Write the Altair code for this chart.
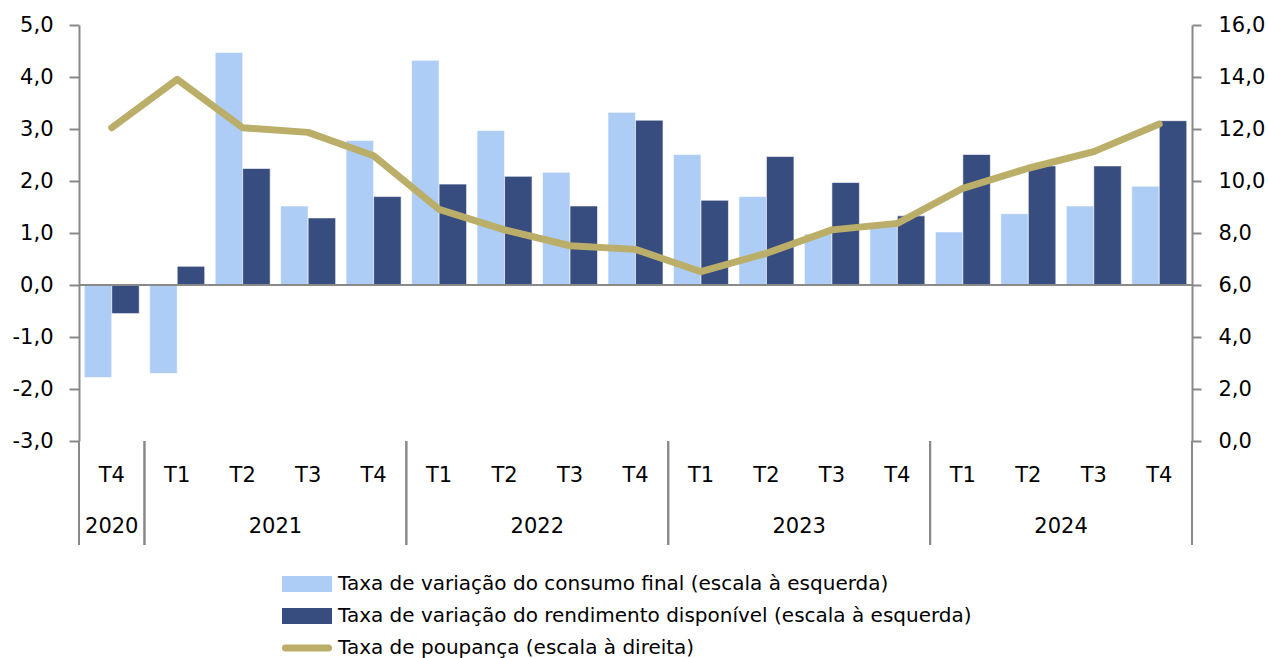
import altair as alt
import pandas as pd

quarters = ["T4", "T1", "T2", "T3", "T4", "T1", "T2", "T3", "T4",
            "T1", "T2", "T3", "T4", "T1", "T2", "T3", "T4"]
years = ["2020"] + ["2021"] * 4 + ["2022"] * 4 + ["2023"] * 4 + ["2024"] * 4
consumo = [-1.78, -1.70, 4.47, 1.52, 2.78, 4.32, 2.97, 2.17, 3.32,
           2.51, 1.70, 0.98, 1.15, 1.02, 1.37, 1.52, 1.90]
rendimento = [-0.55, 0.36, 2.24, 1.29, 1.70, 1.94, 2.09, 1.52, 3.17,
              1.63, 2.47, 1.97, 1.33, 2.51, 2.29, 2.29, 3.16]
poupanca = [12.05, 13.91, 12.05, 11.87, 10.97, 8.91, 8.12, 7.51, 7.37,
            6.51, 7.22, 8.12, 8.37, 9.72, 10.49, 11.13, 12.19]

series_names = [
    "Taxa de variação do consumo final (escala à esquerda)",
    "Taxa de variação do rendimento disponível (escala à esquerda)",
    "Taxa de poupança (escala à direita)",
]
colors = ["#ADCCF6", "#374C7F", "#BBAE68"]

n = len(quarters)
base_df = pd.DataFrame({"idx": list(range(n)), "quarter": quarters, "year": years,
                        "poupanca": poupanca, "serie": series_names[2]})
bars_df = pd.concat([
    pd.DataFrame({"idx": list(range(n)), "value": consumo, "serie": series_names[0], "side": 0}),
    pd.DataFrame({"idx": list(range(n)), "value": rendimento, "serie": series_names[1], "side": 1}),
], ignore_index=True)

FONT = "DejaVu Sans"
GRAY = "#898989"
W, H = 1113, 416
BW = 0.42
LEG_X, LEG_Y, ROW = 218, 549, 32
TFS = 21
LABEL_EXPR = "replace(replace(format(datum.value, '.1f'), '.', ','), '\u2212', '-')"

xscale = alt.Scale(domain=[-0.5, n - 0.5], nice=False, zero=False)

legend_common = dict(title=None, orient="none", legendX=LEG_X, direction="vertical",
                     labelFont=FONT, labelFontSize=20, labelColor="black", labelLimit=0,
                     symbolSize=256, labelOffset=21, symbolStrokeWidth=0,
                     symbolOpacity=1)

bar_color = alt.Color("serie:N", scale=alt.Scale(domain=series_names[:2], range=colors[:2]),
                      sort=series_names[:2],
                      legend=alt.Legend(legendY=LEG_Y, rowPadding=ROW - 20,
                                        symbolType="M-3.125,-1H3.125V1H-3.125Z",
                                        **legend_common))

bars = alt.Chart(bars_df).transform_calculate(
    x0=f"datum.idx + (datum.side - 1) * {BW}",
    x1=f"datum.idx + datum.side * {BW}",
).mark_bar(stroke="white", strokeWidth=0.6).encode(
    x=alt.X("x0:Q", scale=xscale, axis=None),
    x2="x1:Q",
    y=alt.Y("value:Q", scale=alt.Scale(domain=[-3, 5], nice=False),
            axis=alt.Axis(title=None, values=list(range(-3, 6)), orient="left",
                          labelExpr=LABEL_EXPR,
                          grid=False, domainColor=GRAY, domainWidth=2, tickColor=GRAY,
                          tickWidth=2, tickSize=10, labelPadding=16, labelFont=FONT,
                          labelFontSize=TFS, labelColor="black")),
    y2=alt.datum(0),
    color=bar_color,
)

zero = alt.Chart(base_df).transform_aggregate(c="count()").mark_rule(
    color=GRAY, strokeWidth=2).encode(y=alt.datum(0))

qlabels = alt.Chart(base_df).mark_text(font=FONT, fontSize=TFS, color="black",
                                        baseline="middle").encode(
    x=alt.X("idx:Q", scale=xscale, axis=None),
    y=alt.value(H + 35), text="quarter:N")

ylabels = alt.Chart(base_df).transform_aggregate(
    mid="mean(idx)", groupby=["year"]).mark_text(
    font=FONT, fontSize=TFS, color="black", baseline="middle").encode(
    x=alt.X("mid:Q", scale=xscale, axis=None),
    y=alt.value(H + 86), text="year:N")

sep_start = alt.Chart(base_df).transform_aggregate(
    lo="min(idx)", groupby=["year"]).transform_calculate(
    b="datum.lo - 0.5").mark_rule(color=GRAY, strokeWidth=2).encode(
    x=alt.X("b:Q", scale=xscale, axis=None),
    y=alt.value(H), y2=alt.value(H + 104))

sep_end = alt.Chart(base_df).transform_aggregate(
    hi="max(idx)", groupby=["year"]).transform_calculate(
    b="datum.hi + 0.5").mark_rule(color=GRAY, strokeWidth=2).encode(
    x=alt.X("b:Q", scale=xscale, axis=None),
    y=alt.value(H), y2=alt.value(H + 104))

left = alt.layer(bars, zero, qlabels, ylabels, sep_start, sep_end)

line = alt.Chart(base_df).mark_line(strokeWidth=7, strokeCap="round",
                                     strokeJoin="round").encode(
    x=alt.X("idx:Q", scale=xscale, axis=None),
    y=alt.Y("poupanca:Q", scale=alt.Scale(domain=[0, 16], nice=False),
            axis=alt.Axis(title=None, values=list(range(0, 17, 2)), orient="right",
                          labelExpr=LABEL_EXPR,
                          grid=False, domainColor=GRAY, domainWidth=2, tickColor=GRAY,
                          tickWidth=2, tickSize=9, labelPadding=17, labelFont=FONT,
                          labelFontSize=TFS, labelColor="black")),
    stroke=alt.Stroke("serie:N", scale=alt.Scale(domain=series_names[2:], range=colors[2:]),
                      legend=alt.Legend(legendY=LEG_Y + 2 * ROW, symbolFillColor=colors[2],
                                        symbolType="M-2.7,-0.45H2.7A0.45,0.45 0 0 1 2.7,0.45H-2.7A0.45,0.45 0 0 1 -2.7,-0.45Z",
                                        **legend_common)),
)

chart = alt.layer(left, line).resolve_scale(y="independent").properties(
    width=W, height=H, autosize="none",
    padding={"left": 79, "top": 25, "right": 76, "bottom": 217},
    background="white",
).configure_view(stroke=None)

chart.save("out.html", embed_options={"renderer": "svg", "actions": False})
